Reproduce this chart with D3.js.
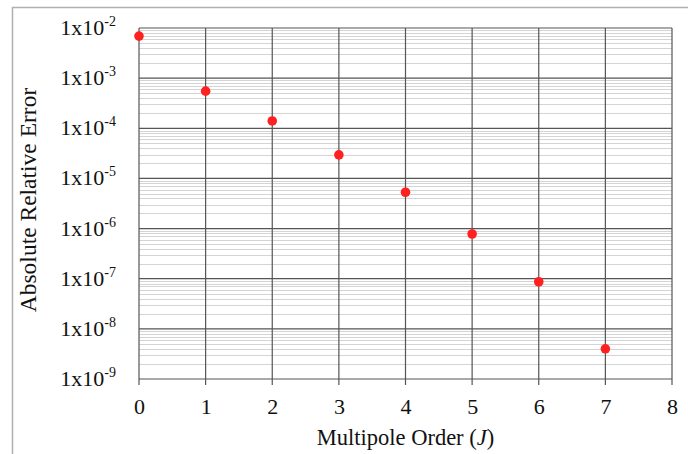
<!DOCTYPE html>
<html><head><meta charset="utf-8">
<script src="https://cdn.jsdelivr.net/npm/d3@7"></script>
<style>body{margin:0;background:#fff;} svg{display:block;font-family:"Liberation Serif","Times New Roman",serif;}</style>
</head><body>
<svg id="c" width="688" height="454"></svg>
<script>
const orders = [0,1,2,3,4,5,6,7];
const errors = [6.9e-3, 5.5e-4, 1.4e-4, 2.95e-5, 5.3e-6, 7.8e-7, 8.7e-8, 4.0e-9];
const xTicks = [0,1,2,3,4,5,6,7,8];
const yExponents = [-2,-3,-4,-5,-6,-7,-8,-9];

const svg = d3.select("#c");
const m = {l:139, r:672, t:28, b:379};
const x = d3.scaleLinear().domain([0,8]).range([m.l, m.r]);
const y = d3.scaleLog().domain([1e-9,1e-2]).range([m.b, m.t]);

// outer frame
svg.append("rect").attr("x",12.5).attr("y",7.5).attr("width",700).attr("height",460)
  .attr("fill","none").attr("stroke","#b0b0b0").attr("stroke-width",1.5);

// minor gridlines
const minor = [];
for (let e=-9; e<-2; e++) for (let k=2; k<=9; k++) minor.push(k*Math.pow(10,e));
svg.append("g").selectAll("line").data(minor).join("line")
  .attr("x1",m.l).attr("x2",m.r).attr("y1",d=>Math.round(y(d))+0.5).attr("y2",d=>Math.round(y(d))+0.5)
  .attr("stroke","#d4d4d4").attr("stroke-width",1);

// major horizontal gridlines
svg.append("g").selectAll("line").data(yExponents.map(e=>Math.pow(10,e))).join("line")
  .attr("x1",m.l).attr("x2",m.r).attr("y1",d=>y(d)).attr("y2",d=>y(d))
  .attr("stroke","#555").attr("stroke-width",1.2);

// vertical gridlines + ticks
svg.append("g").selectAll("line").data(xTicks).join("line")
  .attr("x1",d=>x(d)).attr("x2",d=>x(d)).attr("y1",m.t).attr("y2",m.b+6)
  .attr("stroke","#555").attr("stroke-width",1.2);

// x axis using d3 axis for labels
const xAxis = d3.axisBottom(x).tickValues(xTicks).tickSize(0).tickPadding(0).tickFormat(d3.format("d"));
const gx = svg.append("g").attr("transform",`translate(0,${m.b+19})`).call(xAxis);
gx.select(".domain").remove();
gx.selectAll("text").attr("font-size",22).attr("fill","#111").attr("font-family","Liberation Serif");

// y labels
const yl = svg.append("g").selectAll("text").data(yExponents).join("text")
  .attr("x",116).attr("y",d=>y(Math.pow(10,d))+7)
  .attr("text-anchor","end").attr("font-size",22).attr("fill","#111");
yl.append("tspan").text("1x10");
yl.append("tspan").attr("font-size",14).attr("dy",-9).text(d=>String(d));

// points
svg.append("g").selectAll("circle").data(orders).join("circle")
  .attr("cx",d=>x(d)).attr("cy",(d,i)=>y(errors[i])).attr("r",4.8).attr("fill","#ff2020");

// axis titles
const xt = svg.append("text").attr("x",(m.l+m.r)/2).attr("y",445).attr("text-anchor","middle")
  .attr("font-size",22.5).attr("fill","#111");
xt.append("tspan").text("Multipole Order (");
xt.append("tspan").attr("font-style","italic").text("J");
xt.append("tspan").text(")");

svg.append("text").attr("transform",`translate(36,200) rotate(-90)`)
  .attr("text-anchor","middle").attr("font-size",23.5).attr("fill","#111").text("Absolute Relative Error");
</script>
</body></html>
